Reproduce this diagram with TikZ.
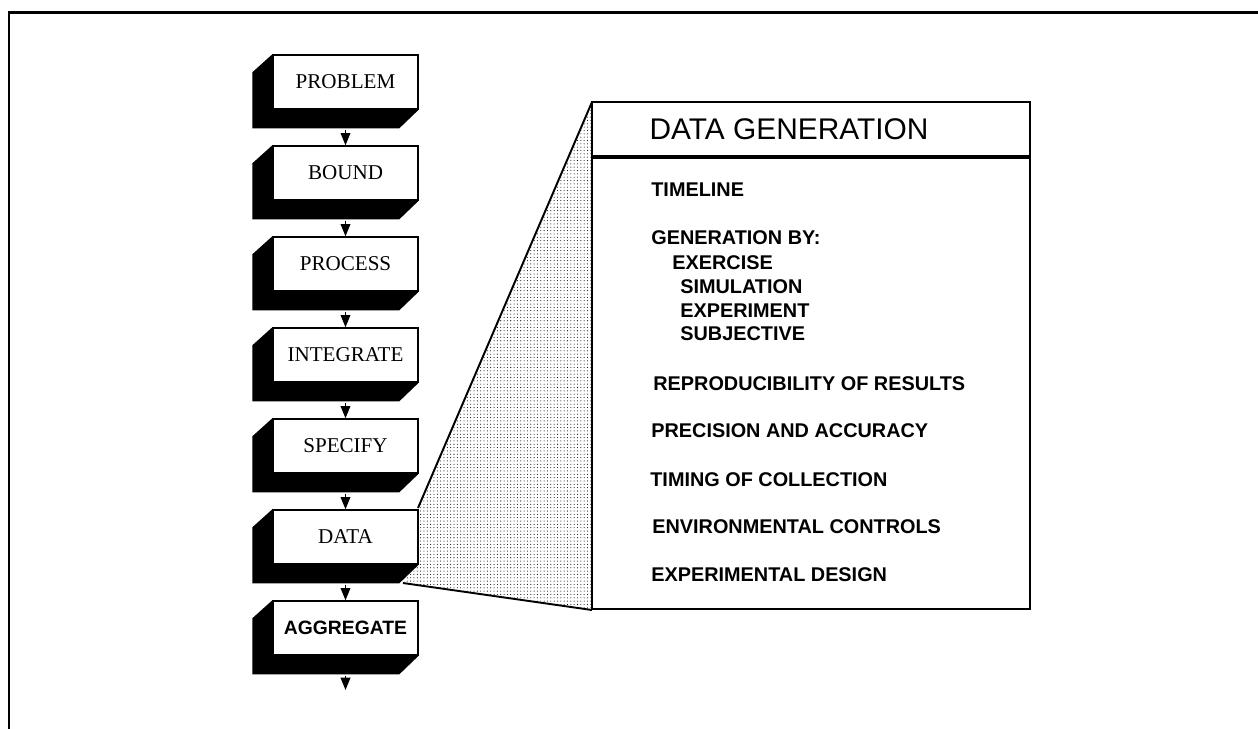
\documentclass[tikz,border=0pt]{standalone}
\usepackage{fontspec}
\setmainfont{Liberation Serif}
\setsansfont{Liberation Sans}
\usetikzlibrary{arrows.meta,patterns.meta}

\begin{document}
\begin{tikzpicture}[x=0.02cm,y=-0.02cm,
	stepbox/.style={draw,fill=white,line width=0.8pt,minimum width=2.9cm,minimum height=1.08cm,inner sep=0pt,font=\fontsize{12}{14}\selectfont},
	flow/.style={line width=0.8pt,-{Triangle[length=7pt,width=5.5pt]}},
	item/.style={anchor=west,inner sep=0pt,font=\sffamily\bfseries\fontsize{11.3}{13}\selectfont}]
	\useasboundingbox (0,0) rectangle (1258,728);
	\draw[line width=1.7pt] (9,760) -- (9,12) -- (1280,12);
	% zoom funnel
	\fill[pattern={Dots[distance=1.9pt,radius=0.3pt]}] (418,508) -- (592,102) -- (592,610) -- (403,583) -- (418,563) -- cycle;
	\draw[line width=1.1pt] (418,508) -- (592,102);
	\draw[line width=1.1pt] (403,583) -- (592,610);
	% steps
	\foreach \n/\t [count=\i from 0] in {problem/PROBLEM,bound/BOUND,process/PROCESS,integrate/INTEGRATE,specify/SPECIFY,data/DATA}
		\node[stepbox] (\n) at (345.5,82+91*\i) {\t};
	\node[stepbox,font=\sffamily\bfseries\fontsize{11}{13}\selectfont] (aggregate) at (345.5,628) {AGGREGATE};
	\foreach \n in {problem,bound,process,integrate,specify,data,aggregate}
		\fill (\n.north west) -- ++(-20,18) -- ++(0,56) -- ++(147,0) -- (\n.south east) -- (\n.south west) -- cycle;
	\foreach \a/\b in {problem/bound,bound/process,process/integrate,integrate/specify,specify/data,data/aggregate}
		\draw[flow] ([yshift=-0.4cm]\a.south) -- (\b);
	\coordinate (next) at (345.5,690);
	\draw[flow] ([yshift=-0.4cm]aggregate.south) -- (next);
	% panel
	\draw[line width=0.9pt] (592,102) rectangle (1030,156);
	\draw[line width=0.9pt] (592,158) rectangle (1030,609);
	\node[font=\sffamily\fontsize{17}{20}\selectfont] (head) at (789,129) {DATA GENERATION};
	\node[item] (timeline) at (651,190) {TIMELINE};
	\node[item] (genby) at (651,238) {GENERATION BY:};
	\node[item] (exercise) at (672,263) {EXERCISE};
	\node[item] (simulation) at (680,287) {SIMULATION};
	\node[item] (experiment) at (680,311) {EXPERIMENT};
	\node[item] (subjective) at (680,334) {SUBJECTIVE};
	\node[item] (reprod) at (653,384) {REPRODUCIBILITY OF RESULTS};
	\node[item] (precision) at (651,431) {PRECISION AND ACCURACY};
	\node[item] (timing) at (650,480) {TIMING OF COLLECTION};
	\node[item] (environ) at (652,527) {ENVIRONMENTAL CONTROLS};
	\node[item] (design) at (651,575) {EXPERIMENTAL DESIGN};
\end{tikzpicture}
\end{document}
